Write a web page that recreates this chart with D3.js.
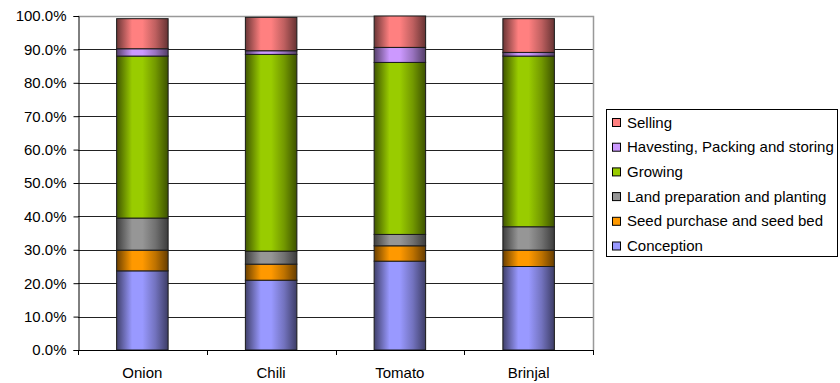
<!DOCTYPE html>
<html>
<head>
<meta charset="utf-8">
<script src="https://cdn.jsdelivr.net/npm/d3@7"></script>
<style>
  html, body { margin: 0; padding: 0; background: #fff; }
  svg { display: block; }
  text { font-family: "Liberation Sans", Arial, sans-serif; fill: #000; }
</style>
</head>
<body>
<svg id="chart" width="840" height="383"></svg>
<script>
// Share of each stage in the production chain, per crop (fraction of 1)
const categories = ["Onion", "Chili", "Tomato", "Brinjal"];
const conception     = [0.237, 0.209, 0.266, 0.250];
const seedPurchase   = [0.062, 0.048, 0.046, 0.049];
const landPrep       = [0.096, 0.039, 0.034, 0.070];
const growing        = [0.485, 0.589, 0.515, 0.511];
const harvesting     = [0.022, 0.011, 0.045, 0.011];
const selling        = [0.090, 0.100, 0.094, 0.101];

const seriesNames = [
  "Conception",
  "Seed purchase and seed bed",
  "Land preparation and planting",
  "Growing",
  "Havesting, Packing and storing",
  "Selling"
];
const seriesValues = [conception, seedPurchase, landPrep, growing, harvesting, selling];
const seriesColors = ["#9999ff", "#ff9900", "#969696", "#99cc00", "#cc99ff", "#ff8080"];
const yTicks = [0, 0.1, 0.2, 0.3, 0.4, 0.5, 0.6, 0.7, 0.8, 0.9, 1.0];

const svg = d3.select("#chart");
const plot = { left: 78, right: 593, top: 16, bottom: 350 };

const x = d3.scaleBand()
  .domain(categories)
  .range([plot.left, plot.right])
  .paddingInner(0.6)
  .paddingOuter(0.3);

const y = d3.scaleLinear().domain([0, 1]).range([plot.bottom, plot.top]);

// Cylinder-like horizontal shading for each series
const defs = svg.append("defs");
seriesColors.forEach((c, i) => {
  const base = d3.color(c);
  const g = defs.append("linearGradient")
    .attr("id", "grad" + i)
    .attr("x1", "0%").attr("x2", "100%").attr("y1", "0%").attr("y2", "0%");
  const stops = [[0, 0.42], [0.3, 1.0], [0.5, 1.0], [0.75, 0.75], [1, 0.4]];
  stops.forEach(([o, k]) => {
    const col = d3.rgb(base.r * k, base.g * k, base.b * k);
    g.append("stop").attr("offset", (o * 100) + "%").attr("stop-color", col.formatHex());
  });
});

// Horizontal gridlines
svg.append("g")
  .selectAll("line")
  .data(yTicks.slice(1, -1))
  .join("line")
  .attr("x1", plot.left).attr("x2", plot.right)
  .attr("y1", d => Math.round(y(d)) + 0.5)
  .attr("y2", d => Math.round(y(d)) + 0.5)
  .attr("stroke", "#222")
  .attr("stroke-width", 1);

// Plot area frame (top and right)
svg.append("path")
  .attr("d", `M${plot.left},${plot.top + 0.5}H${plot.right + 0.5}V${plot.bottom}`)
  .attr("fill", "none")
  .attr("stroke", "#999")
  .attr("stroke-width", 1.5);

// Stacked bars
const stack = d3.stack()
  .keys(d3.range(seriesNames.length))
  .value((d, k) => seriesValues[k][d]);
const layers = stack(d3.range(categories.length));

svg.append("g")
  .selectAll("g")
  .data(layers)
  .join("g")
  .attr("fill", (d, i) => `url(#grad${i})`)
  .selectAll("rect")
  .data(d => d)
  .join("rect")
  .attr("x", d => x(categories[d.data]))
  .attr("width", x.bandwidth())
  .attr("y", d => y(d[1]))
  .attr("height", d => y(d[0]) - y(d[1]))
  .attr("stroke", "#1a1a1a")
  .attr("stroke-width", 1);

// Y axis
const yAxis = d3.axisLeft(y)
  .tickValues(yTicks)
  .tickFormat(d3.format(".1%"))
  .tickSize(5)
  .tickPadding(7);
const yg = svg.append("g")
  .attr("transform", `translate(${plot.left + 0.5},0)`)
  .call(yAxis);
yg.select(".domain").attr("stroke", "#000");
yg.selectAll(".tick line").attr("stroke", "#000");
yg.selectAll(".tick text")
  .style("font-family", "Liberation Sans, Arial, sans-serif")
  .style("font-size", "15px")
  .attr("fill", "#000");

// X axis: baseline, boundary ticks and category labels
const xg = svg.append("g");
xg.append("line")
  .attr("x1", plot.left).attr("x2", plot.right + 1)
  .attr("y1", plot.bottom + 0.5).attr("y2", plot.bottom + 0.5)
  .attr("stroke", "#000");
const step = x.step();
xg.selectAll("line.tk")
  .data(d3.range(categories.length + 1))
  .join("line")
  .attr("class", "tk")
  .attr("x1", i => Math.round(plot.left + i * step) + 0.5)
  .attr("x2", i => Math.round(plot.left + i * step) + 0.5)
  .attr("y1", plot.bottom)
  .attr("y2", plot.bottom + 5)
  .attr("stroke", "#000");
xg.selectAll("text")
  .data(categories)
  .join("text")
  .attr("x", d => x(d) + x.bandwidth() / 2)
  .attr("y", 378)
  .attr("text-anchor", "middle")
  .style("font-size", "15px")
  .text(d => d);

// Legend (top entry is the top of the stack)
const legend = svg.append("g");
legend.append("rect")
  .attr("x", 606.5).attr("y", 109.5)
  .attr("width", 231).attr("height", 147)
  .attr("fill", "#fff")
  .attr("stroke", "#000");
const legendOrder = d3.range(seriesNames.length).reverse();
const items = legend.selectAll("g.item")
  .data(legendOrder)
  .join("g")
  .attr("class", "item")
  .attr("transform", (d, i) => `translate(612, ${122 + i * 24.7})`);
items.append("rect")
  .attr("x", 0.5).attr("y", -3.5)
  .attr("width", 8).attr("height", 8)
  .attr("fill", d => seriesColors[d])
  .attr("stroke", "#000");
items.append("text")
  .attr("x", 15)
  .attr("y", 5.5)
  .style("font-size", "15px")
  .text(d => seriesNames[d]);
</script>
</body>
</html>
